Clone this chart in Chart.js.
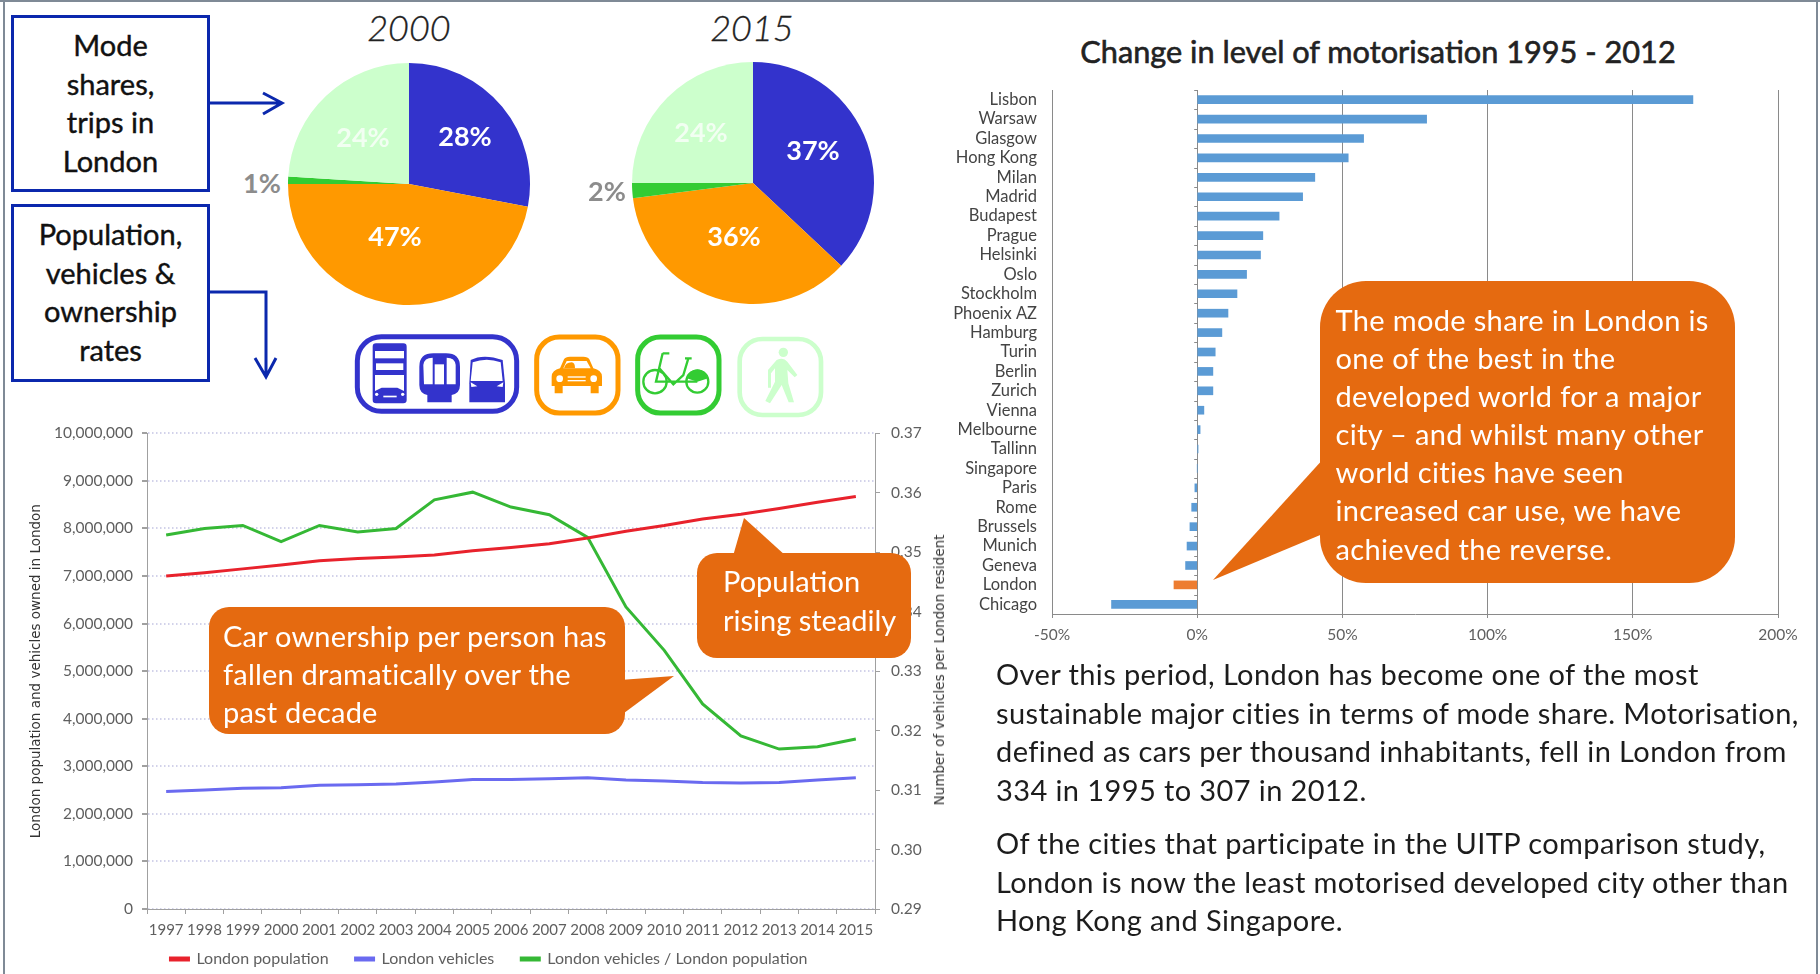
<!DOCTYPE html>
<html><head><meta charset="utf-8">
<script src="https://cdn.jsdelivr.net/npm/chart.js@4"></script>
<style>
html,body{margin:0;padding:0;background:#fff;overflow:hidden}
#page{position:relative;width:1820px;height:974px;font-family:Lato,sans-serif;color:#1c1c1c;overflow:hidden}
#page canvas{position:absolute;filter:blur(.35px)}
.abs{position:absolute;white-space:nowrap}
.frame{position:absolute;background:#7f8a96}
.box{position:absolute;left:11px;width:193px;border:3px solid #0b28ad;text-align:center;font-size:29px;line-height:38.5px;color:#111;-webkit-text-stroke:.4px #111}
.pct{position:absolute;transform:translate(-50%,-50%);font-size:27px;font-weight:700;color:#fff}
.yr{position:absolute;transform:translate(-50%,-50%);font-size:36px;font-style:italic;font-weight:300;color:#222;-webkit-text-stroke:.3px #222}
.call{position:absolute;color:#fff;font-size:29px;letter-spacing:.35px;white-space:nowrap;background:#e56a10}
.para{font-size:29px;letter-spacing:.4px;line-height:38.5px;color:#1c1c1c}
</style></head><body>
<div id="page">
<div class="frame" style="left:0;top:0;width:1820px;height:2px"></div>
<div class="frame" style="left:3px;top:0;width:2px;height:974px"></div>
<div class="frame" style="left:1816px;top:0;width:2px;height:974px"></div>

<div class="box" style="top:15px;height:163px;padding-top:8px">Mode<br>shares,<br>trips in<br>London</div>
<div class="box" style="top:204px;height:164px;padding-top:8px">Population,<br>vehicles &amp;<br>ownership<br>rates</div>

<div class="yr" style="left:409px;top:27px">2000</div>
<div class="yr" style="left:752px;top:27px">2015</div>

<canvas id="pieA" style="left:284px;top:59px" width="250" height="250"></canvas>
<canvas id="pieB" style="left:628px;top:58px" width="250" height="250"></canvas>

<div class="pct" style="left:465px;top:135px">28%</div>
<div class="pct" style="left:363px;top:136px;color:#f2fff2">24%</div>
<div class="pct" style="left:395px;top:235px">47%</div>
<div class="pct" style="left:262px;top:182px;color:#8c8c8c">1%</div>
<div class="pct" style="left:813px;top:149px">37%</div>
<div class="pct" style="left:701px;top:131px;color:#f2fff2">24%</div>
<div class="pct" style="left:734px;top:235px">36%</div>
<div class="pct" style="left:607px;top:190px;color:#8c8c8c">2%</div>

<svg class="abs" style="left:340px;top:325px" width="500" height="100" viewBox="0 0 1500 300">
 <rect x="52" y="35" width="478" height="224" rx="72" fill="#fff" stroke="#3333cc" stroke-width="15"/>
 <rect x="98" y="55" width="102" height="180" rx="10" fill="#3333cc"/>
 <rect x="105" y="78" width="87" height="22" fill="#fff"/><rect x="108" y="115" width="82" height="20" fill="#fff"/>
 <path d="M105 150H192V198L172 188H125L105 198Z" fill="#fff"/>
 <circle cx="110" cy="208" r="5" fill="#fff"/><circle cx="188" cy="208" r="5" fill="#fff"/><rect x="130" y="212" width="40" height="5" fill="#fff"/>
 <path d="M238 125Q238 85 280 85H318Q360 85 360 125V180Q360 205 335 210V232H262V210Q238 205 238 180Z" fill="#3333cc"/>
 <path d="M250 120Q252 98 278 98V178H252Z" fill="#fff"/><rect x="284" y="118" width="28" height="60" fill="#fff"/><path d="M347 120Q345 98 320 98V178H347Z" fill="#fff"/>
 <path d="M392 105Q430 85 488 105L495 175V232H388V175Z" fill="#3333cc"/>
 <path d="M398 112Q440 96 482 112L488 168H392Z" fill="#fff"/>
 <path d="M392 172L412 184L394 186Z M490 172L470 184L488 186Z" fill="#fff"/>

 <rect x="590" y="36" width="244" height="228" rx="68" fill="#fff" stroke="#ff9900" stroke-width="15"/>
 <path d="M635 155Q636 135 660 130L672 103Q676 95 690 95H730Q744 95 748 103L760 130Q785 135 786 155V183H776V205H752V183H668V205H644V183H635Z" fill="#ff9900"/>
 <path d="M670 130L680 108H740L752 130Z" fill="#fff"/><path d="M672 130Q676 112 695 112Q705 112 705 130Z" fill="#ff9900"/>
 <circle cx="659" cy="161" r="10" fill="#fff"/><circle cx="761" cy="161" r="10" fill="#fff"/>
 <rect x="683" y="154" width="54" height="4" fill="#fff"/><rect x="683" y="165" width="54" height="4" fill="#fff"/>

 <rect x="893" y="36" width="244" height="228" rx="68" fill="#fff" stroke="#33cc33" stroke-width="15"/>
 <g fill="none" stroke="#33cc33" stroke-width="7">
  <circle cx="945" cy="170" r="35"/><circle cx="1072" cy="170" r="33"/>
  <path d="M968 85L948 170H1072M958 130L1000 178L1030 150L1045 100M968 85H988M1035 100H1055"/>
 </g>
 <path d="M1040 160A33 33 0 0 1 1105 160L1072 170Z" fill="#33cc33"/>

 <rect x="1199" y="42" width="244" height="228" rx="68" fill="#fff" stroke="#ccffcc" stroke-width="14"/>
 <circle cx="1330" cy="82" r="14" fill="#ccffcc"/>
 <path d="M1310 105Q1330 95 1342 110L1372 150L1364 157L1342 135L1345 175L1362 232H1346L1325 180L1290 235L1276 228L1305 170V130L1293 145V188H1284V135Z" fill="#ccffcc"/>
</svg>

<canvas id="lines" style="left:20px;top:413px" width="938" height="564"></canvas>
<div class="abs" style="left:939px;top:670px;transform:translate(-50%,-50%) rotate(-90deg);font:13.5px 'DejaVu Sans';color:#333">Number of vehicles per London resident</div>

<div class="abs" style="left:1378px;top:51px;transform:translate(-50%,-50%);font-size:30.7px;color:#222;-webkit-text-stroke:.6px #222">Change in level of motorisation 1995 - 2012</div>
<canvas id="bars" style="left:940px;top:70px" width="870" height="590"></canvas>

<svg class="abs" style="left:0;top:0" width="1820" height="974">
 <g fill="none" stroke="#0b28ad" stroke-width="3">
  <path d="M209 103H282M263 93L282 103L263 114"/>
  <path d="M209 292H266V377M255 358L266 377L276 358"/>
 </g>
 <g fill="#e56a10">
  <path d="M620 680L674 676L620 716Z"/>
  <path d="M733 556L744 518L786 556Z"/>
  <path d="M1325 457L1213 580L1325 533Z"/>
 </g>
</svg>
<div class="call" style="left:209px;top:607px;width:416px;height:127px;border-radius:20px">
 <div class="abs" style="left:14px;top:10px;line-height:38px;letter-spacing:.2px">Car ownership per person has<br>fallen dramatically over the<br>past decade</div></div>
<div class="call" style="left:697px;top:553px;width:214px;height:105px;border-radius:20px">
 <div class="abs" style="left:26px;top:8px;line-height:39px;letter-spacing:0">Population<br>rising steadily</div></div>
<div class="call" style="left:1320px;top:281px;width:415px;height:302px;border-radius:46px">
 <div class="abs" style="left:15.5px;top:20px;line-height:38.1px">The mode share in London is<br>one of the best in the<br>developed world for a major<br>city – and whilst many other<br>world cities have seen<br>increased car use, we have<br>achieved the reverse.</div></div>

<div class="abs para" style="left:996px;top:655px">Over this period, London has become one of the most<br>sustainable major cities in terms of mode share. Motorisation,<br>defined as cars per thousand inhabitants, fell in London from<br>334 in 1995 to 307 in 2012.</div>
<div class="abs para" style="left:996px;top:824px">Of the cities that participate in the UITP comparison study,<br>London is now the least motorised developed city other than<br>Hong Kong and Singapore.</div>
</div>

<script>
// ---- Data ----
const modeLabels = ['Public transport','Car','Cycling','Walking'];
const modeColors = ['#3333cc','#ff9900','#33cc33','#ccffcc'];
const share2000 = [28,47,1,24];
const share2015 = [37,36,2,25];

const years = ['1997','1998','1999','2000','2001','2002','2003','2004','2005','2006','2007','2008','2009','2010','2011','2012','2013','2014','2015'];
const population = [7000000,7070000,7150000,7230000,7320000,7370000,7400000,7440000,7530000,7600000,7680000,7800000,7940000,8060000,8200000,8300000,8420000,8550000,8670000];
const vehicles = [2470000,2500000,2540000,2550000,2600000,2610000,2630000,2670000,2720000,2720000,2740000,2760000,2710000,2690000,2660000,2650000,2660000,2710000,2760000];
const perResident = [0.3529,0.3540,0.3545,0.3518,0.3545,0.3534,0.3540,0.3588,0.3601,0.3576,0.3563,0.3525,0.3408,0.3335,0.3245,0.3191,0.3169,0.3173,0.3186];

const cities = ['Lisbon','Warsaw','Glasgow','Hong Kong','Milan','Madrid','Budapest','Prague','Helsinki','Oslo','Stockholm','Phoenix AZ','Hamburg','Turin','Berlin','Zurich','Vienna','Melbourne','Tallinn','Singapore','Paris','Rome','Brussels','Munich','Geneva','London','Chicago'];
const motorisationChange = [170.7,79,57.3,52,40.5,36.3,28.2,22.6,21.8,17,13.7,10.6,8.5,6.2,5.4,5.4,2.3,1,0.3,0,-0.8,-1.9,-2.5,-3.5,-4,-8,-29.5];

Chart.defaults.animation = false;
Chart.defaults.responsive = false;
Chart.defaults.font.family = 'Lato';

function pie(id, values){
  new Chart(document.getElementById(id), {
    type:'pie',
    data:{labels:modeLabels, datasets:[{data:values, backgroundColor:modeColors, borderWidth:0}]},
    options:{radius:121, plugins:{legend:{display:false}, tooltip:{enabled:false}}}
  });
}
pie('pieA', share2000);
pie('pieB', share2015);

const tickGrey = '#5f5f5f';
new Chart(document.getElementById('lines'), {
  type:'line',
  data:{labels:years, datasets:[
    {label:'London population', data:population, yAxisID:'y', borderColor:'#e8222c', backgroundColor:'#e8222c', borderWidth:3, pointRadius:0, tension:0},
    {label:'London vehicles', data:vehicles, yAxisID:'y', borderColor:'#6a6af0', backgroundColor:'#6a6af0', borderWidth:3, pointRadius:0, tension:0},
    {label:'London vehicles / London population', data:perResident, yAxisID:'y2', borderColor:'#35b835', backgroundColor:'#35b835', borderWidth:3, pointRadius:0, tension:0}
  ]},
  options:{
    layout:{padding:{top:14,right:0,bottom:0,left:0}},
    plugins:{tooltip:{enabled:false},
      legend:{position:'bottom', labels:{boxWidth:18, boxHeight:2, padding:27, color:tickGrey, font:{size:16}}}},
    scales:{
      x:{offset:true, grid:{offset:true, drawOnChartArea:false, tickLength:5, color:'#a0a0a0'},
         border:{color:'#a0a0a0'},
         ticks:{color:tickGrey, font:{size:15}, padding:7, maxRotation:0, autoSkip:false},
         afterFit(s){s.height=28;}},
      y:{min:0,max:10000000, afterFit(s){s.width=127;},
         ticks:{stepSize:1000000, color:tickGrey, font:{size:15.5}, padding:9, callback:v=>v.toLocaleString('en-US')},
         grid:{color:'#d2d2ea', lineWidth:2, tickLength:5, tickColor:'#a0a0a0', tickBorderDash:[]},
         border:{color:'#a0a0a0', dash:[1.5,2.5]},
         title:{display:true, text:'London population and vehicles owned in London', color:'#333', padding:{top:8,bottom:0}, font:{family:'DejaVu Sans', size:13.5}}},
      y2:{position:'right', min:0.29,max:0.37, afterFit(s){s.width=83;},
         ticks:{stepSize:0.01, color:tickGrey, font:{size:15.5}, padding:11, callback:v=>v.toFixed(2)},
         grid:{drawOnChartArea:false, tickLength:5, color:'#a0a0a0'},
         border:{color:'#a0a0a0'}}
    }
  },
  plugins:[{id:'legendFit',
    beforeInit(c){ const L=c.legend, f=L.fit; L.fit=function(){ f.call(this); this.height=40; }; },
    afterLayout(c){ c.legend.top-=13; }
  },{id:'solidLeftAxis', afterDraw(c){
    const {ctx,chartArea:a}=c; ctx.save(); ctx.strokeStyle='#a0a0a0'; ctx.lineWidth=1;
    ctx.beginPath(); ctx.moveTo(a.left+.5,a.top); ctx.lineTo(a.left+.5,a.bottom); ctx.stroke(); ctx.restore();
  }}]
});

new Chart(document.getElementById('bars'), {
  type:'bar',
  data:{labels:cities, datasets:[{data:motorisationChange,
    backgroundColor:cities.map(c=>c==='London'?'#ed7d31':'#5b9bd5'), barThickness:8, borderWidth:0}]},
  options:{
    indexAxis:'y',
    layout:{padding:{top:20,right:32,bottom:0,left:0}},
    plugins:{legend:{display:false}, tooltip:{enabled:false}},
    scales:{
      x:{min:-50,max:200, grid:{color:'#8a8a8a', lineWidth:1, tickLength:4},
         border:{color:'#8a8a8a'},
         ticks:{stepSize:50, color:tickGrey, font:{size:15.5}, padding:8, callback:v=>v+'%'},
         afterFit(s){s.height=46;}},
      y:{grid:{display:false}, border:{display:false}, afterFit(s){s.width=112;},
         ticks:{color:'#444', font:{size:16.5}, padding:7, autoSkip:false}}
    }
  },
  plugins:[{id:'zeroTicks', afterDatasetsDraw(c){
    const {ctx,scales:{x,y}}=c; const z=x.getPixelForValue(0);
    ctx.save(); ctx.strokeStyle='#8a8a8a'; ctx.lineWidth=1; ctx.beginPath();
    for(let i=0;i<=cities.length;i++){const p=Math.round(y.top+(y.bottom-y.top)*i/cities.length)+.5; ctx.moveTo(z-3,p); ctx.lineTo(z,p);}
    ctx.stroke(); ctx.restore();
  }}]
});
</script>
</body></html>
